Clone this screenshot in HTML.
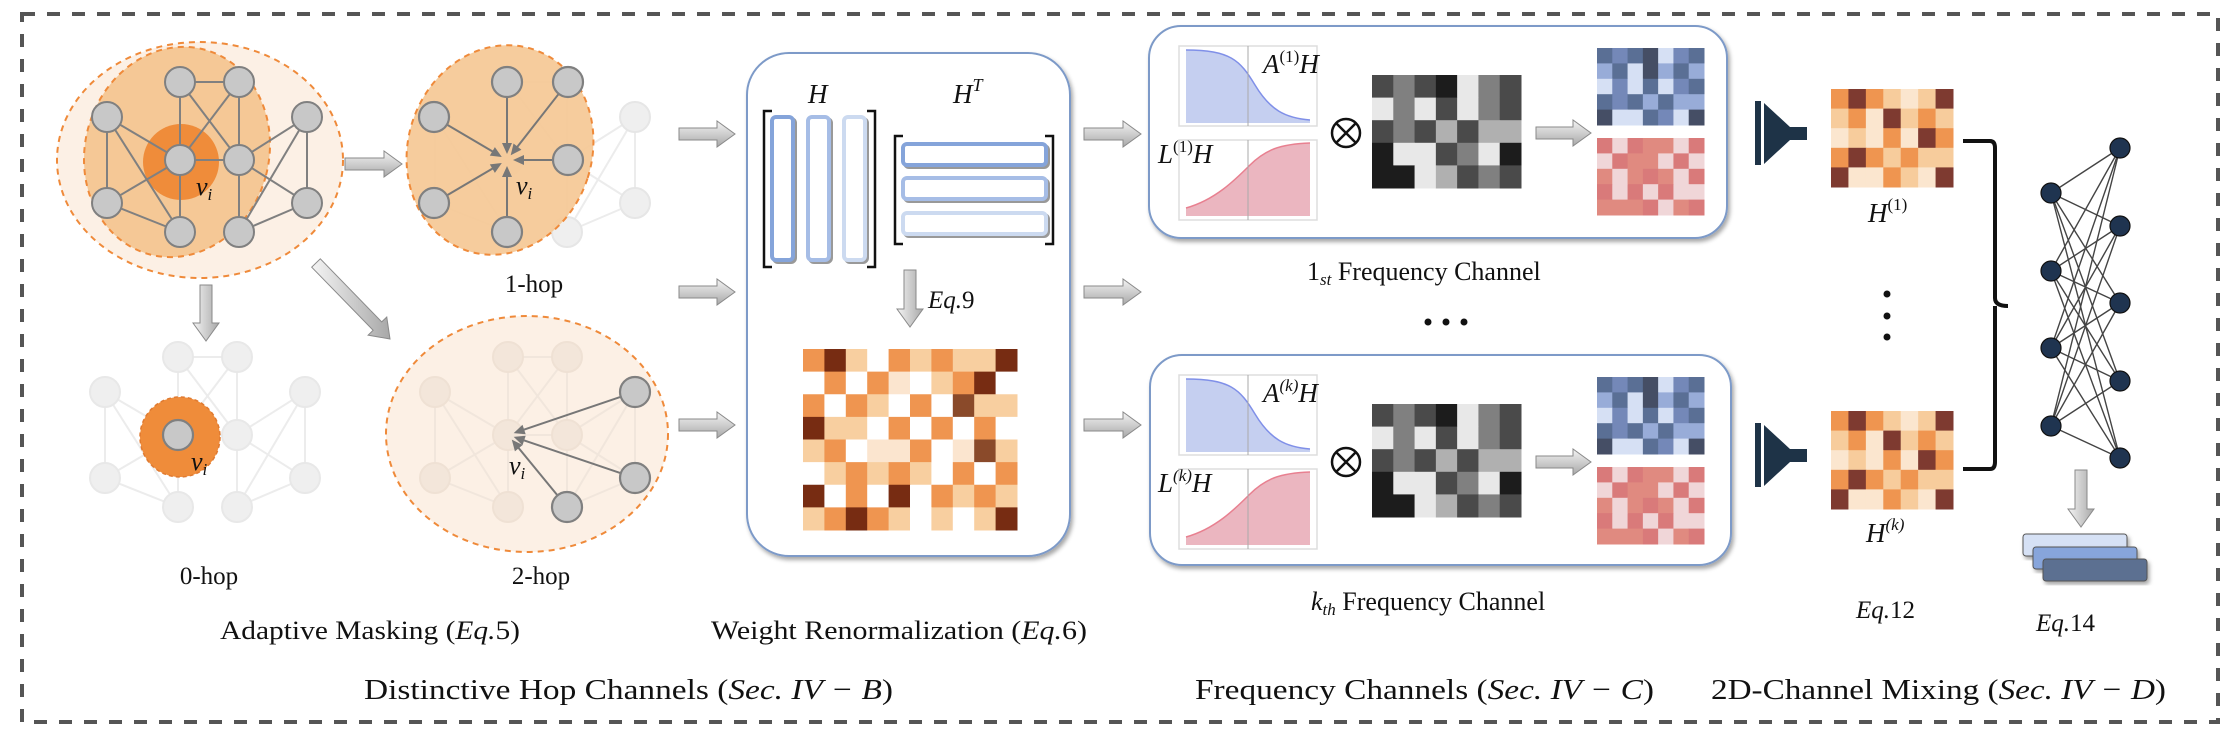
<!DOCTYPE html>
<html><head><meta charset="utf-8"><style>
html,body{margin:0;padding:0;background:#fff;}
svg{display:block;}
text{font-family:"Liberation Serif",serif;fill:#111;}
.it{font-style:italic;}
</style></head><body>
<svg id="s" width="2240" height="733" viewBox="0 0 2240 733" xmlns="http://www.w3.org/2000/svg">
<defs>
<linearGradient id="ga" x1="0" y1="0" x2="0" y2="1"><stop offset="0" stop-color="#f4f4f4"/><stop offset="1" stop-color="#a8a8a8"/></linearGradient>
<linearGradient id="gv" x1="0" y1="0" x2="1" y2="0"><stop offset="0" stop-color="#f4f4f4"/><stop offset="1" stop-color="#a8a8a8"/></linearGradient>
<filter id="sh" x="-10%" y="-10%" width="130%" height="130%"><feDropShadow dx="2" dy="3" stdDeviation="2" flood-color="#000" flood-opacity="0.35"/></filter>
</defs>
<rect x="22" y="14" width="2196" height="708" fill="none" stroke="#555" stroke-width="4" stroke-dasharray="13,12"/>
<g id="g"></g>

<rect x="747" y="53" width="323" height="503" rx="42" fill="#fff" stroke="#7d9ac8" stroke-width="2" filter="url(#sh)"/>
<rect x="1149" y="26" width="578" height="212" rx="32" fill="#fff" stroke="#7d9ac8" stroke-width="2" filter="url(#sh)"/>
<rect x="1150" y="355" width="581" height="210" rx="32" fill="#fff" stroke="#7d9ac8" stroke-width="2" filter="url(#sh)"/>
<g id="g2"></g>

<text x="196" y="195" class="it" font-size="26">v<tspan font-size="17" dy="5">i</tspan></text>
<text x="516" y="194" class="it" font-size="26">v<tspan font-size="17" dy="5">i</tspan></text>
<text x="191" y="470" class="it" font-size="26">v<tspan font-size="17" dy="5">i</tspan></text>
<text x="509" y="474" class="it" font-size="26">v<tspan font-size="17" dy="5">i</tspan></text>
<text x="534" y="292" font-size="25" text-anchor="middle">1-hop</text>
<text x="209" y="584" font-size="25" text-anchor="middle">0-hop</text>
<text x="541" y="584" font-size="25" text-anchor="middle">2-hop</text>
<text x="220" y="639" font-size="26" textLength="300" lengthAdjust="spacingAndGlyphs">Adaptive Masking (<tspan class="it">Eq.</tspan>5)</text>
<text x="711" y="639" font-size="26" textLength="376" lengthAdjust="spacingAndGlyphs">Weight Renormalization (<tspan class="it">Eq.</tspan>6)</text>
<text x="364" y="699" font-size="29" textLength="529" lengthAdjust="spacingAndGlyphs">Distinctive Hop Channels (<tspan class="it">Sec. IV − B</tspan>)</text>
<text x="1195" y="699" font-size="29" textLength="459" lengthAdjust="spacingAndGlyphs">Frequency Channels (<tspan class="it">Sec. IV − C</tspan>)</text>
<text x="1711" y="699" font-size="29" textLength="455" lengthAdjust="spacingAndGlyphs">2D-Channel Mixing (<tspan class="it">Sec. IV − D</tspan>)</text>
<text x="808" y="103" class="it" font-size="27">H</text>
<text x="953" y="103" class="it" font-size="27">H<tspan font-size="18" dy="-12">T</tspan></text>
<text x="928" y="308" class="it" font-size="25">Eq.<tspan font-style="normal">9</tspan></text>
<text x="1263" y="73" class="it" font-size="27">A<tspan font-size="17" dy="-11" font-style="normal">(1)</tspan><tspan dy="11">H</tspan></text>
<text x="1158" y="163" class="it" font-size="27">L<tspan font-size="17" dy="-11" font-style="normal">(1)</tspan><tspan dy="11">H</tspan></text>
<text x="1263" y="402" class="it" font-size="27">A<tspan font-size="17" dy="-11">(k)</tspan><tspan dy="11">H</tspan></text>
<text x="1158" y="492" class="it" font-size="27">L<tspan font-size="17" dy="-11">(k)</tspan><tspan dy="11">H</tspan></text>
<text x="1307" y="280" font-size="26">1<tspan class="it" font-size="17" dy="5">st</tspan><tspan dy="-5"> Frequency Channel</tspan></text>
<text x="1311" y="610" font-size="26"><tspan class="it">k</tspan><tspan class="it" font-size="17" dy="5">th</tspan><tspan dy="-5"> Frequency Channel</tspan></text>
<text x="1868" y="222" class="it" font-size="27">H<tspan font-size="17" dy="-12" font-style="normal">(1)</tspan></text>
<text x="1866" y="542" class="it" font-size="27">H<tspan font-size="17" dy="-12">(k)</tspan></text>
<text x="1856" y="618" class="it" font-size="25">Eq.<tspan font-style="normal">12</tspan></text>
<text x="2036" y="631" class="it" font-size="25">Eq.<tspan font-style="normal">14</tspan></text>
</svg>
<script>
const NS="http://www.w3.org/2000/svg";
const G=document.getElementById('g'), G2=document.getElementById('g2');
function el(t,a,p){const e=document.createElementNS(NS,t);for(const k in a)e.setAttribute(k,a[k]);(p||G).appendChild(e);return e;}
function fat(x1,y1,x2,y2,w,hw,hl,p){
 const dx=x2-x1,dy=y2-y1,L=Math.hypot(dx,dy),ux=dx/L,uy=dy/L,nx=-uy,ny=ux;
 const bx=x2-ux*hl,by=y2-uy*hl;
 const pts=[[x1+nx*w,y1+ny*w],[bx+nx*w,by+ny*w],[bx+nx*hw,by+ny*hw],[x2,y2],[bx-nx*hw,by-ny*hw],[bx-nx*w,by-ny*w],[x1-nx*w,y1-ny*w]];
 el('polygon',{points:pts.map(q=>q.join(',')).join(' '),fill:Math.abs(dx)>Math.abs(dy)?'url(#ga)':'url(#gv)',stroke:'#8a8a8a','stroke-width':1},p);
}
const N0=[[180,82],[239,82],[107,117],[307,117],[180,160],[239,160],[107,203],[307,203],[180,232],[239,232]];
const E=[[0,1],[0,4],[0,5],[1,4],[1,5],[2,4],[2,6],[2,8],[4,5],[4,6],[4,8],[5,3],[5,7],[5,9],[3,9],[3,7],[7,9],[6,8]];
function graph(dx,dy,col,ec,nf,ns){
 E.forEach(([a,b])=>el('line',{x1:N0[a][0]+dx,y1:N0[a][1]+dy,x2:N0[b][0]+dx,y2:N0[b][1]+dy,stroke:ec,'stroke-width':2}));
 N0.forEach(n=>el('circle',{cx:n[0]+dx,cy:n[1]+dy,r:15,fill:nf,stroke:ns,'stroke-width':2}));
}
function node(x,y,f,s){el('circle',{cx:x,cy:y,r:15,fill:f||'#c8c8c8',stroke:s||'#808080','stroke-width':2.2});}
function arr(x1,y1,x2,y2){
 const dx=x2-x1,dy=y2-y1,L=Math.hypot(dx,dy),ux=dx/L,uy=dy/L;
 const sx=x1+ux*15,sy=y1+uy*15,ex=x2-ux*6,ey=y2-uy*6;
 el('line',{x1:sx,y1:sy,x2:ex-ux*8,y2:ey-uy*8,stroke:'#777','stroke-width':2});
 el('polygon',{points:`${ex},${ey} ${ex-ux*11-uy*5},${ey-uy*11+ux*5} ${ex-ux*11+uy*5},${ey-uy*11-ux*5}`,fill:'#777'});
}
el('ellipse',{cx:200,cy:160,rx:143,ry:118,fill:'#fcf0e5',stroke:'#ef8a3a','stroke-width':2,'stroke-dasharray':'6,5'});
el('ellipse',{cx:177,cy:152,rx:92,ry:106,transform:'rotate(15 177 152)',fill:'#f5c896',stroke:'#ef8a3a','stroke-width':2,'stroke-dasharray':'6,5'});
el('circle',{cx:181,cy:162,r:38,fill:'#ef8c3a'});
graph(0,0,0,'#808080','#c8c8c8','#808080');
graph(328,0,0,'#ececec','#efefef','#e6e6e6');
el('ellipse',{cx:500,cy:150,rx:92,ry:106,transform:'rotate(18 500 150)',fill:'#f5c896',stroke:'#ef8a3a','stroke-width':2,'stroke-dasharray':'6,5','fill-opacity':0.93});
[[507,82],[568,82],[434,117],[568,160],[434,203],[507,232]].forEach(n=>{arr(n[0],n[1],507,160);node(n[0],n[1]);});
graph(-2,275,0,'#ececec','#efefef','#e8e8e8');
el('circle',{cx:180,cy:437,r:40,fill:'#ef8c3a',stroke:'#e07a30','stroke-width':1.5,'stroke-dasharray':'4,3'});
node(178,435);
el('ellipse',{cx:527,cy:434,rx:141,ry:118,fill:'#fcf0e5',stroke:'#ef8a3a','stroke-width':2,'stroke-dasharray':'6,5'});
graph(328,275,0,'#f1e6dc','#f3e6da','#efe1d4');
[[635,392],[635,478],[567,507]].forEach(n=>{arr(n[0],n[1],508,435);node(n[0],n[1]);});
fat(345,164,402,164,6,13,18);
fat(206,285,206,341,6,13,18);
fat(316,263,390,339,6,13,18);
[134,292,425].forEach(y=>fat(679,y,735,y,6,13,18));
[134,292,425].forEach(y=>fat(1084,y,1141,y,6,13,18));
fat(1536,133,1591,133,6,13,18,G2);
fat(1536,462,1591,462,6,13,18,G2);
fat(910,270,910,327,6,13,18,G2);
fat(2081,470,2081,527,6,13,18,G2);
function br(x1,y1,x2,y2){el('path',{d:`M${x1+8},${y1} H${x1} V${y2} H${x1+8} M${x2-8},${y1} H${x2} V${y2} H${x2-8}`,fill:'none',stroke:'#111','stroke-width':2.5},G2);}
br(764,111,875,267);br(895,136,1053,244);
[[772,'#85a4da'],[808,'#a6bde6'],[844,'#ccdaf0']].forEach(([x,c])=>{el('rect',{x:x+2,y:119,width:21,height:143,rx:4,fill:'none',stroke:'#999','stroke-width':4},G2);el('rect',{x:x,y:117,width:21,height:143,rx:4,fill:'#fff',stroke:c,'stroke-width':4},G2);});
[[144,'#85a4da'],[178,'#a6bde6'],[213,'#ccdaf0']].forEach(([y,c])=>{el('rect',{x:905,y:y+2,width:143,height:21,rx:4,fill:'none',stroke:'#999','stroke-width':4},G2);el('rect',{x:903,y:y,width:143,height:21,rx:4,fill:'#fff',stroke:c,'stroke-width':4},G2);});
function mat(x,y,w,h,rows,pal){const R=rows.length,C=rows[0].length,cw=w/C,ch=h/R;rows.forEach((r,i)=>r.split('').forEach((c,j)=>el('rect',{x:x+j*cw,y:y+i*ch,width:cw+0.5,height:ch+0.5,fill:pal[c]},G2)));}
const OP={O:'#ef9550',D:'#772c12',L:'#f8cfa0',W:'#ffffff',V:'#fbe5cf',B:'#8a4a2a'};
mat(803,349,214,181,['ODLWOLOLLD','WOWOVWLODW','OWOLWOWBLL','DLLWOWOWOW','LOWVVOWVBL','WLOLOLWOWO','DWOWDWOLOL','LODOLWLWLD'],OP);
const GP={D:'#4a4a4a',G:'#808080',K:'#1c1c1c',W:'#e8e8e8',S:'#b0b0b0'};
const gr=['DGDKWGD','WGWDWGD','DGDSDSS','KWWDGWK','KKWSDGD'];
const BP={d:'#5a6f95',m:'#7488b8',l:'#98acd8',w:'#d6e0f4',k:'#454e65'};
const bl=['dmdkwmd','ldwkldl','wmwdwmd','dmdldll','kwwdmwk'];
const PP={r:'#d97a7a',p:'#f0d6d8',q:'#e08a80'};
const pk=['rprqqpr','prqqprp','qpqrqpr','rprprpp','qqqrpqr'];
const HO={O:'#ef9550',D:'#7e3a30',L:'#f7cc9c',V:'#fbe6cf'};
const hm=['ODOLVLD','LOVDLOL','VLVOVDO','ODOLOLL','DVVOLVD'];
[0,329].forEach(dy=>{
 mat(1372,75+dy,149,113,gr,GP);
 mat(1597,48+dy,107,77,bl,BP);
 mat(1597,138+dy,107,77,pk,PP);
 el('rect',{x:1179,y:46+dy,width:138,height:80,fill:'#fff',stroke:'#ddd','stroke-width':1.5},G2);
 el('path',{d:`M1186,${50+dy} C1230,${50+dy} 1240,${60+dy} 1255,${85+dy} C1270,${110+dy} 1285,${118+dy} 1310,${120+dy} V${123+dy} H1186 Z`,fill:'#c5cff0',stroke:'none'},G2);
 el('path',{d:`M1186,${50+dy} C1230,${50+dy} 1240,${60+dy} 1255,${85+dy} C1270,${110+dy} 1285,${118+dy} 1310,${120+dy}`,fill:'none',stroke:'#8090e8','stroke-width':1.5},G2);
 el('line',{x1:1248,y1:46+dy,x2:1248,y2:126+dy,stroke:'#aaa','stroke-width':1},G2);
 el('rect',{x:1179,y:140+dy,width:138,height:80,fill:'#fff',stroke:'#ddd','stroke-width':1.5},G2);
 el('path',{d:`M1186,${208+dy} C1215,${200+dy} 1235,${180+dy} 1250,${165+dy} C1265,${150+dy} 1280,${144+dy} 1310,${143+dy} V${216+dy} H1186 Z`,fill:'#ebb6c0'},G2);
 el('path',{d:`M1186,${208+dy} C1215,${200+dy} 1235,${180+dy} 1250,${165+dy} C1265,${150+dy} 1280,${144+dy} 1310,${143+dy}`,fill:'none',stroke:'#e88090','stroke-width':1.5},G2);
 el('line',{x1:1248,y1:140+dy,x2:1248,y2:220+dy,stroke:'#aaa','stroke-width':1},G2);
 el('circle',{cx:1346,cy:133+dy,r:14,fill:'#fff',stroke:'#111','stroke-width':2.5},G2);
 el('path',{d:`M1336,${123+dy} L1356,${143+dy} M1356,${123+dy} L1336,${143+dy}`,stroke:'#111','stroke-width':2.5},G2);
});
[[0,89],[322,411]].forEach(([dy,my])=>{
 el('path',{d:`M1755,${101+dy} h6 v64 h-6 z M1764,${103+dy} L1790,${127+dy} h17 v13 h-17 L1764,${164+dy} Z`,fill:'#1e3347'},G2);
 mat(1831,my,122,98,hm,HO);
});
[1428,1446,1464].forEach(x=>el('circle',{cx:x,cy:322,r:3.5,fill:'#111'},G2));
[294,316,337].forEach(y=>el('circle',{cx:1887,cy:y,r:3.5,fill:'#111'},G2));
el('path',{d:'M1963,141 H1990 Q1995,141 1995,148 V298 Q1995,306 2008,306 M1995,306 Q1995,306 1995,314 V462 Q1995,469 1990,469 H1963',fill:'none',stroke:'#111','stroke-width':4},G2);
const Lx=2051,Rx=2120,LY=[193,271,348,426],RY=[148,226,303,381,458];
LY.forEach(a=>RY.forEach(b=>el('line',{x1:Lx,y1:a,x2:Rx,y2:b,stroke:'#444','stroke-width':1.4},G2)));
LY.forEach(y=>el('circle',{cx:Lx,cy:y,r:10,fill:'#1f3450',stroke:'#111','stroke-width':1.2},G2));
RY.forEach(y=>el('circle',{cx:Rx,cy:y,r:10,fill:'#1f3450',stroke:'#111','stroke-width':1.2},G2));
[[2023,534,'#d6e1f5'],[2033,547,'#87a5db'],[2043,559,'#5c6f91']].forEach(([x,y,c])=>el('rect',{x:x,y:y,width:104,height:22,rx:3,fill:c,stroke:'#555','stroke-width':1,filter:'url(#sh)'},G2));
</script>
</body></html>
